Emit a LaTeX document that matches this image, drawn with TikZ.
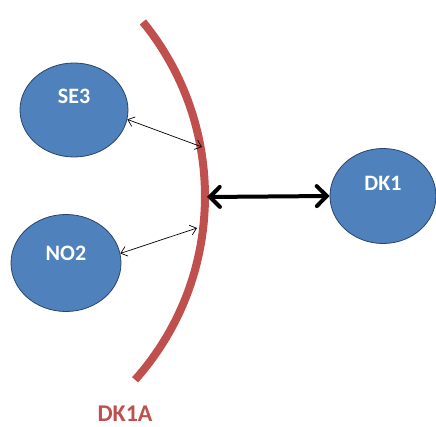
\documentclass[tikz,border=0pt]{standalone}
\usepackage{fontspec}
\setmainfont{Carlito}
\usetikzlibrary{arrows.meta,shapes.geometric}
\definecolor{nodeblue}{HTML}{4F81BD}
\definecolor{nodeedge}{HTML}{2A4468}
\definecolor{arcred}{HTML}{C0504D}
\tikzset{
  area/.style={ellipse, draw=nodeedge, line width=0.8pt, fill=nodeblue, text=white,
    font=\fontsize{22}{26}\selectfont\bfseries, inner sep=0pt, text height=14pt},
  thinlink/.style={line width=0.7pt, {Straight Barb[length=6pt,width=10pt]}-{Straight Barb[length=6pt,width=10pt]}},
  thicklink/.style={line width=4pt, line cap=round, {Straight Barb[length=10pt,width=20pt,line cap=round]}-{Straight Barb[length=10pt,width=20pt,line cap=round]}},
}
\begin{document}
\begin{tikzpicture}[x=1pt,y=-1pt]
\useasboundingbox (0,0) rectangle (436,427);
% border arc
\draw[arcred, line width=8pt] (-70.9,196.3) ++(-39.2:275.9) arc[start angle=-39.2, end angle=41.7, radius=275.9];
\coordinate (bse) at (202,147);
\coordinate (bno) at (197,228);
\coordinate (bdk) at (207,197);
% areas
\node[area, minimum width=108pt, minimum height=94pt, text depth=26pt] (se3) at (74,110) {SE3};
\node[area, minimum width=110pt, minimum height=97pt, text depth=18pt] (no2) at (66,263) {NO2};
\node[area, minimum width=106pt, minimum height=95pt, text depth=24pt] (dk1) at (383,196) {DK1};
% links
\draw[thinlink] (se3.-10) -- (bse);
\draw[thinlink] (no2.10) -- (bno);
\draw[thicklink] (bdk) -- (dk1.west);
% label
\node[anchor=base, text=arcred, font=\fontsize{24}{28}\selectfont\bfseries, inner sep=0pt] (lab) at (125,421) {DK1A};
\end{tikzpicture}
\end{document}
